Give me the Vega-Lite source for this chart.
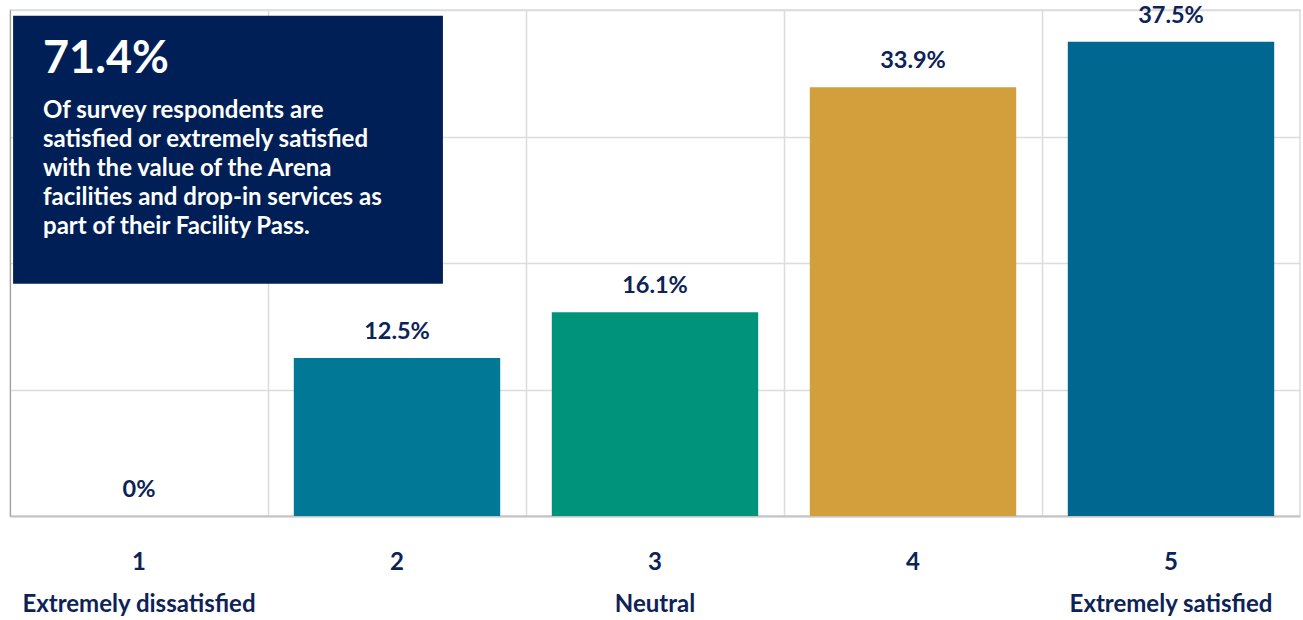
{
  "$schema": "https://vega.github.io/schema/vega-lite/v6.json",
  "width": 1290,
  "height": 506,
  "autosize": {"type": "none"},
  "padding": {"left": 10, "top": 10, "right": 3, "bottom": 104},
  "background": "#ffffff",
  "config": {
    "view": {"stroke": "#dcdcdc", "strokeWidth": 1.5},
    "font": "Lato",
    "text": {"font": "Lato"}
  },
  "datasets": {
    "ratings": [
      {"rating": "1", "pct": 0, "label": "0%"},
      {"rating": "2", "pct": 12.5, "label": "12.5%"},
      {"rating": "3", "pct": 16.1, "label": "16.1%"},
      {"rating": "4", "pct": 33.9, "label": "33.9%"},
      {"rating": "5", "pct": 37.5, "label": "37.5%"}
    ],
    "note": [
      {
        "headline": "71.4%",
        "body": ["Of survey respondents are", "satisfied or extremely satisfied", "with the value of the Arena", "facilities and drop-in services as", "part of their Facility Pass."]
      }
    ]
  },
  "resolve": {"scale": {"x": "independent"}},
  "layer": [
    {
      "data": {"name": "ratings"},
      "mark": {"type": "bar", "width": {"band": 0.8}},
      "encoding": {
        "x": {
          "field": "rating",
          "type": "nominal",
          "sort": null,
          "scale": {"paddingInner": 0, "paddingOuter": 0},
          "axis": {
            "title": null,
            "bandPosition": 0,
            "grid": true,
            "gridColor": "#dcdcdc",
            "gridWidth": 1.5,
            "ticks": false,
            "domain": true,
            "domainColor": "#c4c4c4",
            "domainWidth": 2,
            "labelAngle": 0,
            "labelFont": "Lato",
            "labelFontWeight": "bold",
            "labelFontSize": 24,
            "labelColor": "#0d2357",
            "labelPadding": 34,
            "labelBaseline": "top",
            "labelLineHeight": 42,
            "labelOffset": 0,
            "labelLimit": 0,
            "labelExpr": "datum.value == '1' ? ['1', 'Extremely dissatisfied'] : datum.value == '3' ? ['3', 'Neutral'] : datum.value == '5' ? ['5', 'Extremely satisfied'] : datum.value",
            "labelBound": false,
            "labelOverlap": false
          }
        },
        "y": {
          "field": "pct",
          "type": "quantitative",
          "scale": {"domain": [0, 40], "nice": false},
          "axis": {
            "title": null,
            "values": [0, 10, 20, 30, 40],
            "labels": false,
            "ticks": false,
            "grid": true,
            "gridColor": "#dcdcdc",
            "gridWidth": 1.5,
            "domain": true,
            "domainColor": "#a0a0a0",
            "domainWidth": 1
          }
        },
        "color": {
          "field": "rating",
          "type": "nominal",
          "scale": {"domain": ["1", "2", "3", "4", "5"], "range": ["#007896", "#007896", "#00937b", "#d39e3c", "#006791"]},
          "legend": null
        }
      }
    },
    {
      "data": {"name": "ratings"},
      "mark": {"type": "text", "baseline": "bottom", "dy": -14, "font": "Lato", "fontWeight": "bold", "fontSize": 23.5, "color": "#0d2357"},
      "encoding": {
        "x": {"field": "rating", "type": "nominal", "sort": null, "scale": {"paddingInner": 0, "paddingOuter": 0}, "axis": null},
        "y": {"field": "pct", "type": "quantitative", "scale": {"domain": [0, 40], "nice": false}},
        "text": {"field": "label"}
      }
    },
    {
      "data": {"name": "note"},
      "mark": {"type": "rect", "color": "#001f56"},
      "encoding": {
        "x": {"datum": 0.012, "type": "quantitative", "scale": {"domain": [0, 5], "nice": false, "zero": false}, "axis": null},
        "x2": {"datum": 1.678},
        "y": {"datum": 39.55, "type": "quantitative"},
        "y2": {"datum": 18.35}
      }
    },
    {
      "data": {"name": "note"},
      "mark": {"type": "text", "align": "left", "baseline": "alphabetic", "font": "Lato", "fontWeight": "bold", "fontSize": 45, "color": "#ffffff"},
      "encoding": {
        "x": {"datum": 0.128, "type": "quantitative", "scale": {"domain": [0, 5], "nice": false, "zero": false}, "axis": null},
        "y": {"datum": 35.05, "type": "quantitative"},
        "text": {"field": "headline"}
      }
    },
    {
      "data": {"name": "note"},
      "mark": {"type": "text", "align": "left", "baseline": "alphabetic", "font": "Lato", "fontWeight": "bold", "fontSize": 24, "lineHeight": 29.2, "color": "#ffffff"},
      "encoding": {
        "x": {"datum": 0.128, "type": "quantitative", "scale": {"domain": [0, 5], "nice": false, "zero": false}, "axis": null},
        "y": {"datum": 31.49, "type": "quantitative"},
        "text": {"field": "body"}
      }
    }
  ]
}
